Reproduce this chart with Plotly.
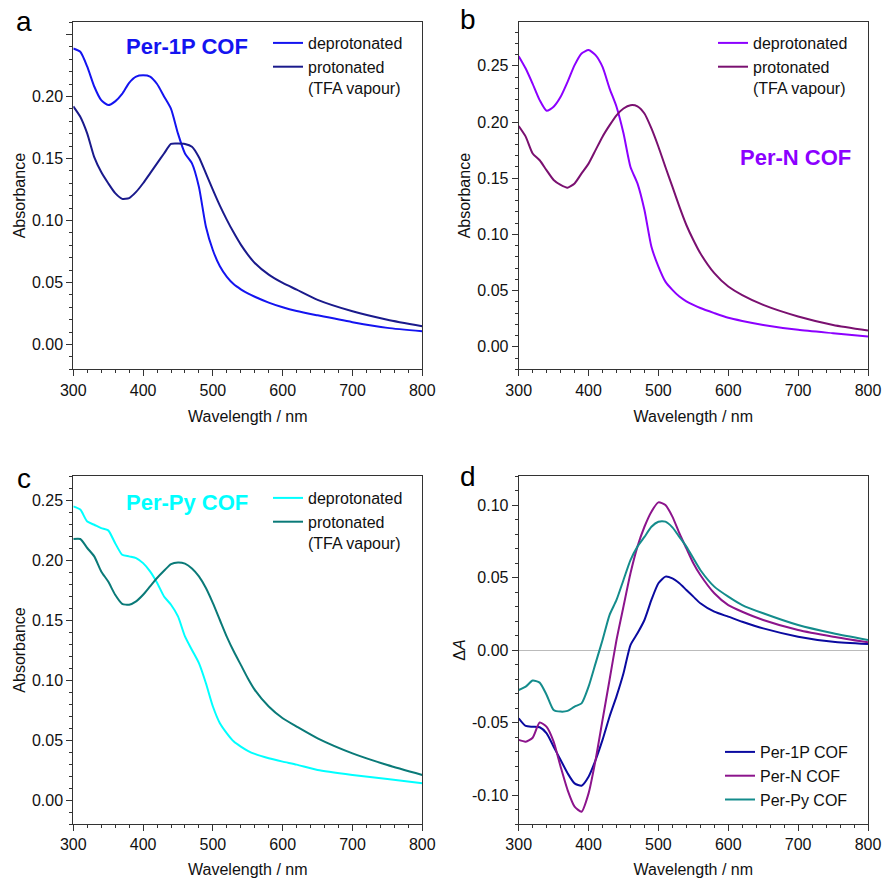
import plotly.graph_objects as go

# ---------------- data ----------------
wavelength = [300, 310, 320, 330, 340, 350, 360, 370, 380, 390, 400, 410, 420, 430, 440,
              450, 460, 470, 480, 490, 500, 510, 520, 530, 540, 550, 560, 580, 600, 620,
              650, 700, 750, 800]

# panel a: Per-1P COF
a_deprot = [0.2386, 0.236, 0.224, 0.208, 0.197, 0.193, 0.196, 0.202, 0.211, 0.216, 0.217,
            0.216, 0.210, 0.200, 0.190, 0.170, 0.154, 0.146, 0.127, 0.095, 0.076, 0.063,
            0.0545, 0.0485, 0.0445, 0.0412, 0.0385, 0.0338, 0.0300, 0.0270, 0.0235, 0.018,
            0.0134, 0.0107]
a_prot = [0.192, 0.1836, 0.170, 0.151, 0.139, 0.130, 0.122, 0.1174, 0.118, 0.123, 0.130,
          0.138, 0.146, 0.154, 0.1617, 0.162, 0.1617, 0.1595, 0.151, 0.138, 0.1247, 0.112,
          0.1005, 0.090, 0.0805, 0.0725, 0.0657, 0.0563, 0.0496, 0.0442, 0.036, 0.0268,
          0.020, 0.0147]

# panel b: Per-N COF
b_deprot = [0.2586, 0.2476, 0.234, 0.2195, 0.210, 0.2136, 0.2224, 0.2358, 0.2506, 0.261,
            0.264, 0.2595, 0.249, 0.230, 0.2136, 0.190, 0.160, 0.1454, 0.1217, 0.089,
            0.0714, 0.058, 0.0507, 0.0447, 0.0405, 0.0373, 0.0345, 0.030, 0.0258, 0.023,
            0.0195, 0.0151, 0.0121, 0.0092]
b_prot = [0.1964, 0.187, 0.172, 0.166, 0.157, 0.1484, 0.144, 0.1416, 0.1454, 0.1543, 0.163,
          0.175, 0.187, 0.197, 0.206, 0.212, 0.215, 0.214, 0.2076, 0.1943, 0.178, 0.160,
          0.1425, 0.1247, 0.1084, 0.095, 0.0832, 0.0655, 0.0536, 0.046, 0.0373, 0.027,
          0.0195, 0.0145]

# panel c: Per-Py COF
c_deprot = [0.2447, 0.242, 0.232, 0.2294, 0.2266, 0.2247, 0.214, 0.2044, 0.203, 0.2016,
            0.1974, 0.1905, 0.181, 0.1696, 0.1627, 0.153, 0.1363, 0.125, 0.114, 0.0973,
            0.0779, 0.064, 0.0556, 0.0487, 0.0445, 0.041, 0.0384, 0.0348, 0.032, 0.0295,
            0.025, 0.0209, 0.0175, 0.0139]
c_prot = [0.2175, 0.2175, 0.210, 0.203, 0.1905, 0.182, 0.171, 0.1635, 0.1627, 0.1655, 0.171,
          0.178, 0.185, 0.191, 0.1966, 0.198, 0.197, 0.193, 0.1863, 0.1766, 0.164, 0.150,
          0.136, 0.1237, 0.1126, 0.1015, 0.0918, 0.0779, 0.0681, 0.0612, 0.0514, 0.0389,
          0.0292, 0.0209]

# panel d: difference spectra
d_1p = [-0.0471, -0.0524, -0.0529, -0.0533, -0.0575, -0.0667, -0.0759, -0.085, -0.092,
        -0.0936, -0.0874, -0.0759, -0.062, -0.046, -0.032, -0.0161, 0.0034, 0.0115, 0.0207,
        0.0345, 0.046, 0.0506, 0.0494, 0.046, 0.0414, 0.0368, 0.0322, 0.0264, 0.023,
        0.0195, 0.0149, 0.0092, 0.0057, 0.0041]
d_n = [-0.062, -0.0632, -0.0605, -0.050, -0.053, -0.0632, -0.0805, -0.0966, -0.108, -0.1115,
       -0.0989, -0.0759, -0.0483, -0.0207, 0.0069, 0.030, 0.0529, 0.0713, 0.085, 0.0954,
       0.1018, 0.100, 0.092, 0.0805, 0.0701, 0.0598, 0.0517, 0.0391, 0.031, 0.0264, 0.0207,
       0.0138, 0.0092, 0.0053]
d_py = [-0.0276, -0.0253, -0.0211, -0.0225, -0.031, -0.0414, -0.0425, -0.042, -0.039,
        -0.0368, -0.0253, -0.0092, 0.0069, 0.0241, 0.0345, 0.0483, 0.062, 0.0713, 0.078,
        0.085, 0.0885, 0.0885, 0.0846, 0.078, 0.0713, 0.0632, 0.0552, 0.0437, 0.0368,
        0.031, 0.0253, 0.0172, 0.0115, 0.0069]

a_tickvals = [0.00, 0.05, 0.10, 0.15, 0.20, 0.25]
a_ticktext = ["0.00", "0.05", "0.10", "0.15", "0.20", ""]
d_tickvals = [-0.10, -0.05, 0.00, 0.05, 0.10]
d_ticktext = ["-0.10", "-0.05", "0.00", "0.05", "0.10"]

# ---------------- figure ----------------
FONT = "Arial, 'Liberation Sans', sans-serif"
W, H = 882, 878

fig = go.Figure()

def add(x, y, name, color, xa, ya, leg):
    fig.add_trace(go.Scatter(x=x, y=y, name=name, mode="lines",
                             line=dict(color=color, width=2, shape="spline", smoothing=0.6),
                             xaxis=xa, yaxis=ya, legend=leg))

add(wavelength, a_deprot, "deprotonated", "#1414F0", "x", "y", "legend")
add(wavelength, a_prot, "protonated<br>(TFA vapour)", "#1A1A8C", "x", "y", "legend")
add(wavelength, b_deprot, "deprotonated", "#8C00FF", "x2", "y2", "legend2")
add(wavelength, b_prot, "protonated<br>(TFA vapour)", "#7A1070", "x2", "y2", "legend2")
add(wavelength, c_deprot, "deprotonated", "#00FFFF", "x3", "y3", "legend3")
add(wavelength, c_prot, "protonated<br>(TFA vapour)", "#0A7A78", "x3", "y3", "legend3")
add(wavelength, d_1p, "Per-1P COF", "#0A0AA0", "x4", "y4", "legend4")
add(wavelength, d_n, "Per-N COF", "#8C148C", "x4", "y4", "legend4")
add(wavelength, d_py, "Per-Py COF", "#148C8C", "x4", "y4", "legend4")

def px_x(p):
    return p / W

def px_y(p):
    return 1 - p / H

xdom_l = [px_x(73.3), px_x(422.3)]
xdom_r = [px_x(518.7), px_x(868)]
ydom_t = [px_y(369.3), px_y(22)]
ydom_b = [px_y(824), px_y(476)]

def xax(dom, anchor):
    return dict(domain=dom, anchor=anchor, range=[300, 800], dtick=100, tick0=300,
                automargin=False,
                showline=True, mirror=True, linecolor="#333", linewidth=1,
                ticks="outside", ticklen=6, tickcolor="#333",
                minor=dict(dtick=20, ticks="outside", ticklen=3, tickcolor="#333"),
                showgrid=False, zeroline=False,
                tickfont=dict(size=16, color="#111", family=FONT),
                title=dict(text="Wavelength / nm", font=dict(size=16, color="#111", family=FONT),
                           standoff=13))

def yax(dom, anchor, rng, title, **kw):
    d = dict(domain=dom, anchor=anchor, range=rng, dtick=0.05, tick0=0,
             automargin=False,
             showline=True, mirror=True, linecolor="#333", linewidth=1,
             ticks="outside", ticklen=6, tickcolor="#333", tickformat=".2f",
             minor=dict(dtick=0.01, ticks="outside", ticklen=3, tickcolor="#333"),
             showgrid=False, zeroline=False,
             tickfont=dict(size=16, color="#111", family=FONT),
             title=dict(text=title, font=dict(size=16, color="#111", family=FONT), standoff=2))
    d.update(kw)
    return d

def legend(xpx, ypx):
    return dict(x=px_x(xpx), y=px_y(ypx), xanchor="left", yanchor="top",
                bgcolor="rgba(0,0,0,0)", borderwidth=0, valign="top",
                font=dict(size=16, color="#111", family=FONT), tracegroupgap=0,
                itemwidth=30)

fig.update_layout(
    width=W, height=H, margin=dict(l=0, r=0, t=0, b=0, autoexpand=False),
    paper_bgcolor="white", plot_bgcolor="white",
    font=dict(family=FONT, color="#111"),
    showlegend=True,
    xaxis=xax(xdom_l, "y"),
    yaxis=yax(ydom_t, "x", [-0.02, 0.26], "Absorbance",
              tickmode="array", tickvals=a_tickvals, ticktext=a_ticktext),
    xaxis2=xax(xdom_r, "y2"),
    yaxis2=yax(ydom_t, "x2", [-0.02, 0.289], "Absorbance"),
    xaxis3=xax(xdom_l, "y3"),
    yaxis3=yax(ydom_b, "x3", [-0.02, 0.27], "Absorbance"),
    xaxis4=xax(xdom_r, "y4"),
    yaxis4=yax(ydom_b, "x4", [-0.12, 0.12], "Δ<i>A</i>",
               tickmode="array", tickvals=d_tickvals, ticktext=d_ticktext,
               zeroline=True, zerolinecolor="#BBBBBB", zerolinewidth=1),
    legend=legend(268, 26),
    legend2=legend(713, 26),
    legend3=legend(268, 481),
    legend4=legend(720, 735),
)

annots = [
    dict(text="a", x=px_x(23.5), y=px_y(21), font=dict(size=28, color="#000", family=FONT)),
    dict(text="b", x=px_x(468), y=px_y(19), font=dict(size=28, color="#000", family=FONT)),
    dict(text="c", x=px_x(23.5), y=px_y(478), font=dict(size=28, color="#000", family=FONT)),
    dict(text="d", x=px_x(468), y=px_y(476), font=dict(size=28, color="#000", family=FONT)),
    dict(text="<b>Per-1P COF</b>", x=px_x(187), y=px_y(46),
         font=dict(size=22, color="#1414F0", family=FONT)),
    dict(text="<b>Per-N COF</b>", x=px_x(795), y=px_y(158),
         font=dict(size=22, color="#8C00FF", family=FONT)),
    dict(text="<b>Per-Py COF</b>", x=px_x(187), y=px_y(502),
         font=dict(size=22, color="#00FFFF", family=FONT)),
]
for a in annots:
    a.update(xref="paper", yref="paper", showarrow=False, xanchor="center", yanchor="middle")
fig.update_layout(annotations=annots)

fig.write_html("out.html", config={"displayModeBar": False},
               post_script="document.body.style.margin='0px';")
